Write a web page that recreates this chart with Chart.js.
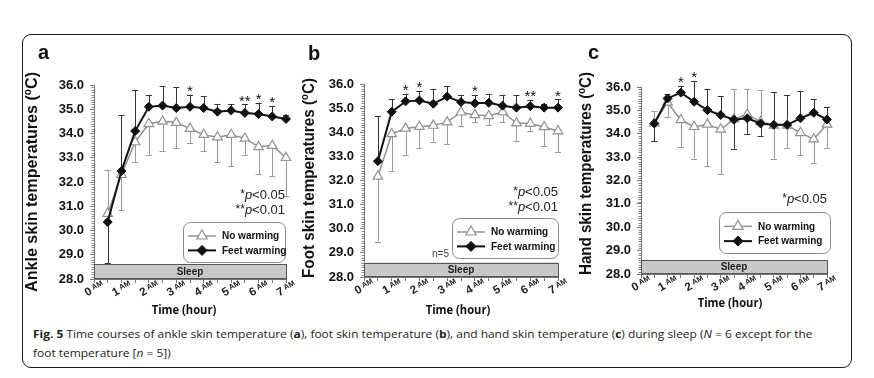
<!DOCTYPE html>
<html><head><meta charset="utf-8">
<script src="https://cdn.jsdelivr.net/npm/chart.js@4.4.0/dist/chart.umd.min.js"></script>
<style>
html,body{margin:0;padding:0;background:#fff;width:874px;height:378px;overflow:hidden;position:relative;}
#frame{position:absolute;left:22px;top:34px;width:830px;height:334px;box-sizing:border-box;border:1.5px solid #1a1a1a;border-radius:9px;}
canvas{position:absolute;}
.xt{position:absolute;font-family:'Open Sans',sans-serif;font-weight:bold;font-size:13px;color:#111;white-space:nowrap;transform:translateX(-50%) scaleX(0.86);line-height:14px;}
.cap{position:absolute;left:33px;font-family:'Open Sans',sans-serif;font-size:11px;line-height:14px;color:#222;white-space:nowrap;transform-origin:0 0;}
</style></head>
<body>
<div id="frame"></div>
<canvas id="ca" width="275" height="272" style="left:20px;top:40px"></canvas>
<canvas id="cb" width="275" height="272" style="left:295px;top:40px"></canvas>
<canvas id="cc" width="270" height="272" style="left:575px;top:40px"></canvas>
<div class="xt" style="left:184px;top:302px">Time (hour)</div>
<div class="xt" style="left:458px;top:302px">Time (hour)</div>
<div class="xt" style="left:730px;top:295px">Time (hour)</div>
<div class="cap" id="cap1" style="top:327px"><b>Fig. 5</b> Time courses of ankle skin temperature (<b>a</b>), foot skin temperature (<b>b</b>), and hand skin temperature (<b>c</b>) during sleep (<i>N</i> = 6 except for the</div>
<div class="cap" id="cap2" style="top:346px">foot temperature [<i>n</i> = 5])</div>
<script>
// ---------- data ----------
const hours = [0.5, 1, 1.5, 2, 2.5, 3, 3.5, 4, 4.5, 5, 5.5, 6, 6.5, 7];
const hourTicks = [0, 1, 2, 3, 4, 5, 6, 7];
const yTickValues = [28, 29, 30, 31, 32, 33, 34, 35, 36];
const seriesNames = ['No warming', 'Feet warming'];

const ankleNo     = [30.7, 32.3, 33.65, 34.4, 34.5, 34.45, 34.2, 33.95, 33.85, 33.95, 33.8, 33.45, 33.5, 33.0];
const ankleNoSD   = [1.8, 1.45, 0.83, 1.28, 1.24, 1.06, 0.6, 0.69, 1.03, 1.31, 0.68, 1.13, 1.27, 1.57];
const ankleFeet   = [30.35, 32.45, 34.1, 35.1, 35.15, 35.05, 35.1, 35.05, 34.9, 34.95, 34.85, 34.8, 34.7, 34.6];
const ankleFeetSD = [1.7, 2.3, 1.7, 0.5, 0.8, 0.85, 0.5, 0.5, 0.32, 0.25, 0.35, 0.47, 0.44, 0.17];
const ankleStars  = ['', '', '', '', '', '', '*', '', '', '', '**', '*', '*', ''];

const footNo      = [32.17, 33.93, 34.16, 34.23, 34.28, 34.42, 34.83, 34.72, 34.68, 34.84, 34.38, 34.36, 34.22, 34.05];
const footNoSD    = [2.7, 1.54, 1.12, 0.88, 0.68, 0.92, 0.58, 0.3, 0.4, 0.42, 0.73, 0.29, 0.79, 0.88];
const footFeet    = [32.8, 34.85, 35.28, 35.32, 35.18, 35.48, 35.25, 35.2, 35.22, 35.1, 35.02, 35.08, 35.02, 35.02];
const footFeetSD  = [1.88, 0.51, 0.32, 0.38, 0.62, 0.42, 0.3, 0.35, 0.38, 0.45, 0.53, 0.25, 0.17, 0.34];
const footStars   = ['', '', '*', '*', '', '', '', '*', '', '', '', '**', '', '*'];

const handNo      = [34.45, 35.34, 34.59, 34.3, 34.4, 34.19, 34.62, 34.83, 34.51, 34.36, 34.36, 34.04, 33.77, 34.4];
const handNoSD    = [0.51, 0.61, 1.15, 1.36, 1.77, 1.92, 1.29, 1.08, 1.36, 1.42, 0.99, 0.95, 1.04, 1.03];
const handFeet    = [34.44, 35.51, 35.76, 35.37, 35.01, 34.8, 34.6, 34.66, 34.44, 34.38, 34.38, 34.66, 34.9, 34.61];
const handFeetSD  = [0.75, 0.19, 0.28, 0.89, 0.89, 0.81, 1.24, 0.69, 0.53, 1.41, 1.28, 1.18, 0.57, 0.52];
const handStars   = ['', '', '*', '*', '', '', '', '', '', '', '', '', '', ''];

// ---------- helpers ----------
const FF = "'Liberation Sans', Arial, sans-serif";
const NO_COLOR = '#929292', FEET_COLOR = '#111';
function richWidth(ctx, segs) { let w = 0; for (const s of segs) { ctx.font = s.f; w += ctx.measureText(s.t).width; } return w; }
function drawRich(ctx, segs, x, y) { for (const s of segs) { ctx.font = s.f; ctx.fillText(s.t, x, y + (s.dy || 0)); x += ctx.measureText(s.t).width; } }

const panelPlugin = {
  id: 'panel',
  beforeDatasetsDraw(chart, args, o) {
    const ctx = chart.ctx, ca = chart.chartArea, x = chart.scales.x, y = chart.scales.y;
    ctx.save();
    // minor y ticks
    ctx.strokeStyle = '#8a8a8a'; ctx.lineWidth = 1;
    ctx.beginPath();
    for (let k = yTickValues[0] * 10 + 1; k < yTickValues[yTickValues.length - 1] * 10; k++) {
      if (k % 10 === 0) continue;
      const py = Math.round(y.getPixelForValue(k / 10)) + 0.5;
      ctx.moveTo(ca.left - 2.5, py); ctx.lineTo(ca.left, py);
    }
    ctx.stroke();
    // sleep bar
    const sx0 = x.getPixelForValue(0), sx1 = x.getPixelForValue(7);
    const sy0 = y.getPixelForValue(28.6), sy1 = y.getPixelForValue(28);
    ctx.fillStyle = '#c8c8c8'; ctx.fillRect(sx0, sy0, sx1 - sx0, sy1 - sy0);
    ctx.strokeStyle = '#555'; ctx.lineWidth = 1; ctx.strokeRect(Math.round(sx0) + 0.5, Math.round(sy0) + 0.5, Math.round(sx1 - sx0), Math.round(sy1 - sy0) - 1);
    ctx.fillStyle = '#222'; ctx.font = 'bold 10px ' + FF; ctx.textAlign = 'center'; ctx.textBaseline = 'middle';
    ctx.fillText('Sleep', (sx0 + sx1) / 2, (sy0 + sy1) / 2 + 0.5);
    // error bars
    const no = o.no, feet = o.feet;
    ctx.lineWidth = 1;
    const bar = (px, v, e, col) => {
      const p0 = y.getPixelForValue(v), p1 = y.getPixelForValue(e);
      ctx.strokeStyle = col; ctx.beginPath();
      ctx.moveTo(Math.round(px) + 0.5, p0); ctx.lineTo(Math.round(px) + 0.5, p1);
      ctx.moveTo(px - 3, Math.round(p1) + 0.5); ctx.lineTo(px + 3, Math.round(p1) + 0.5);
      ctx.stroke();
    };
    hours.forEach((h, i) => {
      const px = x.getPixelForValue(h);
      const feetUp = feet[i] >= no[i];
      bar(px, no[i], feetUp ? no[i] - o.noSD[i] : no[i] + o.noSD[i], '#9a9a9a');
      bar(px, feet[i], feetUp ? feet[i] + o.feetSD[i] : feet[i] - o.feetSD[i], '#333');
    });
    ctx.restore();
  },
  afterDraw(chart, args, o) {
    const ctx = chart.ctx, ca = chart.chartArea, x = chart.scales.x, y = chart.scales.y;
    ctx.save();
    ctx.fillStyle = '#111'; ctx.textAlign = 'left'; ctx.textBaseline = 'alphabetic';
    // stars
    ctx.font = '15px ' + FF; ctx.textAlign = 'center';
    hours.forEach((h, i) => {
      if (!o.stars[i]) return;
      const top = Math.max(o.no[i], o.feet[i]) + (o.feet[i] >= o.no[i] ? o.feetSD[i] : o.noSD[i]);
      ctx.fillText(o.stars[i], x.getPixelForValue(h), y.getPixelForValue(top) - 7.5 + 8.6);
    });
    ctx.textAlign = 'left';
    // x tick labels
    hourTicks.forEach(h => {
      const px = x.getPixelForValue(h);
      const segs = [{ t: String(h), f: 'bold 11.5px ' + FF }, { t: ' AM', f: 'bold 7.5px ' + FF, dy: -2.5 }];
      const w = richWidth(ctx, segs);
      ctx.save(); ctx.translate(px, ca.bottom + 9); ctx.rotate(-Math.PI / 6);
      ctx.fillStyle = '#222';
      drawRich(ctx, segs, -w / 2, 4);
      ctx.restore();
    });
    // panel letter
    ctx.font = 'bold 20px ' + FF; ctx.fillStyle = '#111';
    ctx.fillText(o.letter, o.letterPos[0], o.letterPos[1]);
    // y title
    {
      const segs = [{ t: o.title + ' (', f: 'bold 16px ' + FF }, { t: 'o', f: 'bold 10px ' + FF, dy: -6 }, { t: 'C)', f: 'bold 16px ' + FF }];
      const w = richWidth(ctx, segs);
      ctx.save(); ctx.translate(o.titleCenter[0], o.titleCenter[1]); ctx.rotate(-Math.PI / 2);
      ctx.scale(o.titleLen / w, 1);
      drawRich(ctx, segs, -w / 2, 6);
      ctx.restore();
    }
    // p-value notes
    o.pNotes.forEach((n, k) => {
      const segs = [{ t: n[0], f: '12px ' + FF, dy: -1 }, { t: 'p', f: 'italic 13px ' + FF }, { t: n[1], f: '13px ' + FF }];
      const w = richWidth(ctx, segs);
      ctx.fillStyle = '#222';
      drawRich(ctx, segs, o.pRight - w, o.pBase[k]);
    });
    if (o.note) { ctx.font = '10px ' + FF; ctx.fillStyle = '#444'; ctx.fillText(o.note[0], o.note[1], o.note[2]); }
    // legend
    const [bl, bt, bw, bh] = o.legendBox;
    ctx.beginPath(); ctx.roundRect(bl + 0.5, bt + 0.5, bw, bh, 7);
    ctx.fillStyle = '#fff'; ctx.fill(); ctx.strokeStyle = '#8a8a8a'; ctx.lineWidth = 1; ctx.stroke();
    const rows = [bt + bh * 0.35, bt + bh * 0.71];
    const dss = [chart.data.datasets[1], chart.data.datasets[0]];
    rows.forEach((ry, k) => {
      const ds = dss[k];
      ctx.strokeStyle = ds.borderColor; ctx.lineWidth = ds.borderWidth;
      ctx.beginPath(); ctx.moveTo(bl + 5, ry); ctx.lineTo(bl + 33, ry); ctx.stroke();
      ctx.fillStyle = ds.pointBackgroundColor; ctx.strokeStyle = ds.pointBorderColor; ctx.lineWidth = ds.pointBorderWidth;
      Chart.helpers.drawPoint(ctx, { pointStyle: ds.pointStyle, radius: ds.pointRadius + 0.5, borderWidth: ds.pointBorderWidth, rotation: 0 }, bl + 19, ry);
      ctx.fillStyle = '#111'; ctx.font = 'bold 10px ' + FF; ctx.textBaseline = 'middle';
      ctx.fillText(seriesNames[k], bl + 39, ry + 0.5);
      ctx.textBaseline = 'alphabetic';
    });
    ctx.restore();
  }
};

function makeChart(id, no, noSD, feet, feetSD, stars, pad, yWidth, extra) {
  const data = {
    datasets: [
      { label: seriesNames[1], data: hours.map((h, i) => ({ x: h, y: feet[i] })), borderColor: FEET_COLOR, borderWidth: 2,
        pointStyle: 'rectRot', pointRadius: 4.5, pointBackgroundColor: FEET_COLOR, pointBorderColor: FEET_COLOR, pointBorderWidth: 1, clip: false },
      { label: seriesNames[0], data: hours.map((h, i) => ({ x: h, y: no[i] })), borderColor: NO_COLOR, borderWidth: 1.5,
        pointStyle: 'triangle', pointRadius: 5.5, pointBackgroundColor: '#fff', pointBorderColor: NO_COLOR, pointBorderWidth: 1.2, clip: false }
    ]
  };
  return new Chart(document.getElementById(id), {
    type: 'line', data,
    options: {
      responsive: false, animation: false, events: [],
      layout: { padding: pad },
      scales: {
        x: { type: 'linear', min: 0, max: 7,
             ticks: { display: false, stepSize: 0.5, autoSkip: false },
             grid: { drawOnChartArea: false, drawTicks: true, tickLength: 4, tickColor: '#777', tickWidth: 1 },
             border: { display: true, color: '#777', width: 1 },
             afterFit(s) { s.height = 10; } },
        y: { min: 28, max: 36,
             afterBuildTicks(s) { s.ticks = yTickValues.map(v => ({ value: v })); },
             ticks: { autoSkip: false, padding: 6, color: '#111', font: { family: FF, size: 13, weight: 'bold' }, callback: v => Number(v).toFixed(1) },
             grid: { drawOnChartArea: false, drawTicks: true, tickLength: 4, tickColor: '#777', tickWidth: 1 },
             border: { display: true, color: '#777', width: 1 },
             afterFit(s) { s.width = yWidth; } }
      },
      plugins: {
        legend: { display: false }, tooltip: { enabled: false },
        panel: Object.assign({ no, noSD, feet, feetSD, stars }, extra)
      }
    },
    plugins: [panelPlugin]
  });
}

makeChart('ca', ankleNo, ankleNoSD, ankleFeet, ankleFeetSD, ankleStars,
  { top: 45, right: 9, bottom: 23, left: 0 }, 74,
  { letter: 'a', letterPos: [18, 19], title: 'Ankle skin temperatures', titleCenter: [11, 142], titleLen: 220,
    pNotes: [['*', '<0.05'], ['**', '<0.01']], pRight: 265, pBase: [159, 174],
    legendBox: [163, 182, 102, 40] });

makeChart('cb', footNo, footNoSD, footFeet, footFeetSD, footStars,
  { top: 44, right: 12, bottom: 25, left: 0 }, 69,
  { letter: 'b', letterPos: [13, 20], title: 'Foot skin temperatures', titleCenter: [13, 138], titleLen: 200,
    pNotes: [['*', '<0.05'], ['**', '<0.01']], pRight: 263, pBase: [156, 171],
    legendBox: [157, 178, 106, 40], note: ['n=5', 137, 217] });

makeChart('cc', handNo, handNoSD, handFeet, handFeetSD, handStars,
  { top: 47, right: 18, bottom: 28, left: 0 }, 66,
  { letter: 'c', letterPos: [13, 19], title: 'Hand skin temperatures', titleCenter: [10, 133.5], titleLen: 203,
    pNotes: [['*', '<0.05']], pRight: 252, pBase: [163],
    legendBox: [144, 172, 111, 41] });

// fit caption width
(function () {
  const c1 = document.getElementById('cap1'), c2 = document.getElementById('cap2');
  const k = 780 / c1.scrollWidth;
  c1.style.transform = 'scaleX(' + k + ')';
  c2.style.transform = 'scaleX(' + k + ')';
})();
</script>
</body></html>
